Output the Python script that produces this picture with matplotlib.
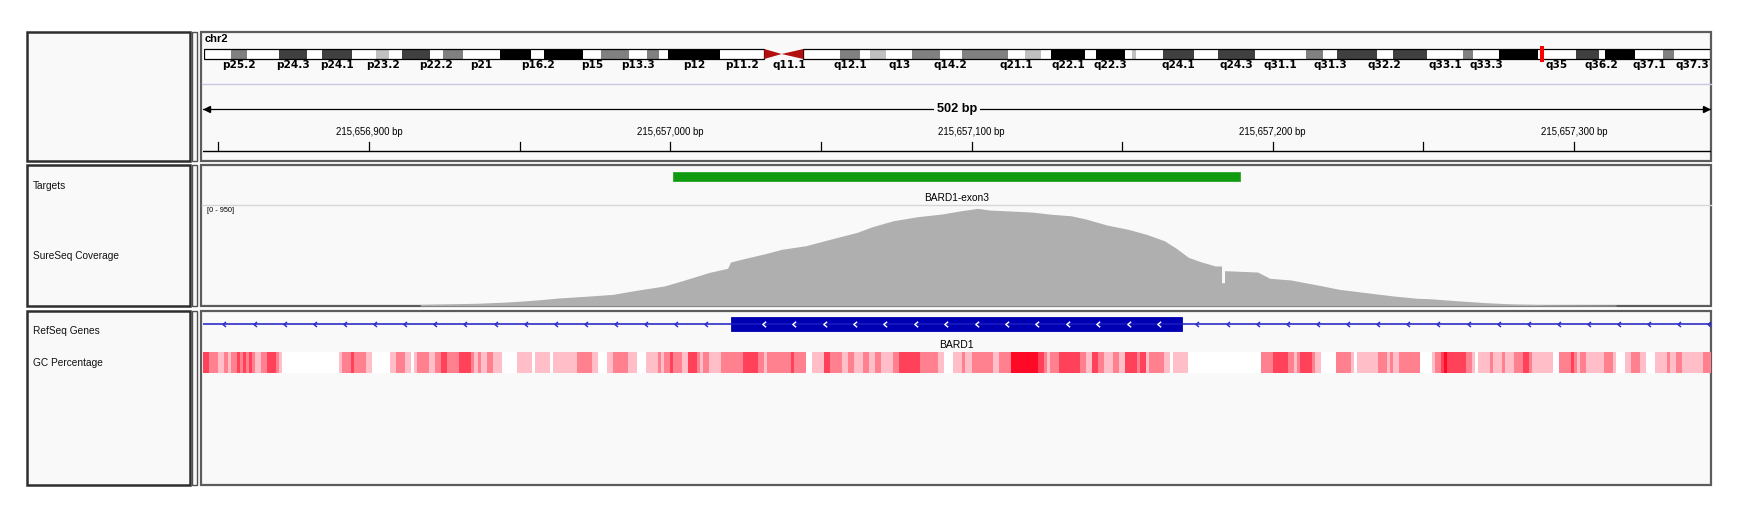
import numpy as np
import matplotlib
matplotlib.use("Agg")
import matplotlib.pyplot as plt
from matplotlib.patches import Rectangle, Polygon
from matplotlib.path import Path

plt.rcParams["font.family"] = ["Liberation Sans", "DejaVu Sans"]

W, H = 1743, 519

# ---- data -------------------------------------------------------------
chrom = "chr2"
view_start, view_end = 215656844.7, 215657345.5
base = 215656800

# hg19 chr2 cytobands (Mb)
band_start = [0, 4.4, 7.1, 12.2, 16.7, 19.2, 24.0, 27.9, 30.0, 32.1, 36.6, 38.6,
              41.8, 47.8, 52.9, 55.0, 61.3, 64.1, 68.6, 71.5, 73.5, 75.0, 83.3,
              96.8, 102.7, 106.0, 107.5, 110.2, 114.4, 118.8, 122.4, 129.9,
              132.5, 135.1, 136.8, 142.2, 144.1, 148.7, 149.9, 150.5, 154.9,
              159.8, 163.7, 169.7, 178.0, 180.6, 183.0, 189.4, 191.9, 197.4,
              203.3, 204.9, 209.0, 215.3, 221.5, 225.2, 226.1, 231.0, 235.6, 237.3]
band_name = ["p25.3", "p25.2", "p25.1", "p24.3", "p24.2", "p24.1", "p23.3", "p23.2",
             "p23.1", "p22.3", "p22.2", "p22.1", "p21", "p16.3", "p16.2", "p16.1",
             "p15", "p14", "p13.3", "p13.2", "p13.1", "p12", "p11.2",
             "q11.2", "q12.1", "q12.2", "q12.3", "q13", "q14.1", "q14.2", "q14.3",
             "q21.1", "q21.2", "q21.3", "q22.1", "q22.2", "q22.3", "q23.1", "q23.2",
             "q23.3", "q24.1", "q24.2", "q24.3", "q31.1", "q31.2", "q31.3", "q32.1",
             "q32.2", "q32.3", "q33.1", "q33.2", "q33.3", "q34", "q35", "q36.1",
             "q36.2", "q36.3", "q37.1", "q37.2", "q37.3"]
band_stain = [0, 50, 0, 75, 0, 75, 0, 25, 0, 75, 0, 50, 0, 100, 0, 100, 0, 50, 0,
              50, 0, 100, 0, 0, 50, 0, 25, 0, 50, 0, 50, 0, 25, 0, 100, 0, 100, 0,
              25, 0, 75, 0, 75, 0, 50, 0, 75, 0, 75, 0, 50, 0, 100, 0, 75, 0, 100,
              0, 50, 0]
chrom_len = 243.2
cen_start, cen_mid, cen_end = 90.5, 93.3, 96.8
cen_label = "q11.1"
shown_labels = ["p25.2", "p24.3", "p24.1", "p23.2", "p22.2", "p21", "p16.2", "p15",
                "p13.3", "p12", "p11.2", "q12.1", "q13", "q14.2", "q21.1", "q22.1",
                "q22.3", "q24.1", "q24.3", "q31.1", "q31.3", "q32.2", "q33.1",
                "q33.3", "q35", "q36.2", "q37.1", "q37.3"]

ruler_ticks = [215656850, 215656900, 215656950, 215657000, 215657050, 215657100,
               215657150, 215657200, 215657250, 215657300]
ruler_labels = [215656900, 215657000, 215657100, 215657200, 215657300]

target_start, target_end = 215657001, 215657189
target_name = "BARD1-exon3"

# coverage outline: offsets from base, depth
cov_pos = [117, 117, 136, 146, 151, 157, 163, 172, 181, 188, 198, 204, 213, 219, 220,
           225, 232, 237, 245, 253, 262, 267, 274, 282, 290, 296, 302, 306, 313,
           320, 327, 333, 338, 345, 352, 358, 364, 368, 372, 376, 381, 383, 383,
           384, 384, 395, 399, 406, 415, 422, 431, 440, 448, 452, 461, 471, 480,
           490, 514, 514]
cov_val = [0, 15, 26, 38, 47, 60, 76, 92, 110, 145, 189, 239, 318, 356, 416,
           451, 498, 536, 570, 630, 696, 749, 806, 844, 869, 898, 923, 907, 898,
           888, 866, 853, 822, 765, 725, 678, 617, 545, 460, 419, 378, 378, 220,
           220, 334, 321, 262, 246, 198, 158, 126, 95, 73, 69, 50, 31, 19, 13, 9, 0]
cov_max = 950

gene_name = "BARD1"
exon_start, exon_end = 215657020, 215657170

# GC percentage cells: start offsets (end = next start), level 0 = no data
gc_start = [44, 47, 50, 52, 53, 54, 56, 57, 58, 59, 60, 61, 62, 64, 66, 69, 70, 71,
            90, 91, 94, 95, 99, 101, 107, 109, 112, 114, 115, 116, 120, 122, 124,
            126, 130, 134, 135, 136, 137, 139, 141, 144, 149, 154, 155, 160, 161,
            169, 174, 176, 179, 181, 186, 189, 192, 196, 197, 198, 200, 201, 204,
            206, 209, 210, 211, 213, 217, 224, 229, 231, 232, 240, 241, 245, 247,
            251, 253, 257, 259, 261, 264, 266, 268, 270, 274, 276, 283, 289, 291,
            294, 297, 298, 300, 307, 309, 313, 322, 324, 325, 326, 329, 336, 338,
            340, 342, 344, 347, 349, 351, 355, 356, 358, 359, 364, 366, 367, 372,
            396, 400, 405, 407, 408, 409, 413, 414, 416, 421, 426, 427, 428, 435,
            438, 439, 440, 442, 449, 453, 454, 456, 457, 458, 464, 466, 467, 468,
            472, 473, 476, 477, 480, 483, 485, 486, 493, 495, 499, 500, 501, 502,
            504, 510, 513, 514, 517, 519, 522, 524, 527, 531, 532, 534, 536, 543, 546]
gc_level = [3, 2, 1, 2, 1, 2, 3, 2, 3, 2, 3, 2, 1, 2, 3, 2, 1, 0,
            1, 2, 3, 2, 1, 0, 1, 2, 1, 0, 1, 2, 1, 2, 3,
            2, 3, 2, 1, 2, 1, 2, 1, 0, 1, 0, 1, 0, 1,
            2, 1, 0, 1, 2, 1, 0, 1, 2, 1, 2, 3, 2, 1,
            3, 2, 1, 2, 1, 2, 3, 2, 1, 2, 3, 2, 0, 1,
            3, 2, 1, 2, 1, 2, 1, 2, 1, 2, 3, 2, 1, 0,
            1, 2, 1, 2, 1, 2, 4, 3, 2, 1, 2, 3, 2, 1,
            3, 2, 1, 2, 1, 3, 2, 3, 1, 2, 1, 0, 1, 0,
            2, 3, 2, 1, 2, 3, 2, 1, 0, 2, 1, 0, 1, 2,
            1, 2, 1, 2, 0, 1, 2, 3, 4, 3, 2, 1, 0, 1,
            2, 1, 2, 1, 2, 3, 2, 1, 0, 2, 3, 2, 1, 2,
            1, 2, 1, 0, 1, 2, 1, 0, 1, 2, 1, 2, 1, 2]

track_names = ["Targets", "SureSeq Coverage", "RefSeq Genes", "GC Percentage"]
track_name_y = [186, 256, 331.5, 362.5]

# ---- styles -----------------------------------------------------------
stain_color = {0: "#ffffff", 25: "#c0c0c0", 50: "#808080", 75: "#404040", 100: "#000000"}
gc_color = {1: "#ffbec8", 2: "#ff808f", 3: "#ff4259", 4: "#ff0a26"}
panel_bg = "#f9f9f9"
data_x0, data_x1 = 202.5, 1711
band_font = dict(family=["DejaVu Sans"], fontsize=7.6, fontweight="bold")

fig = plt.figure(figsize=(W / 100, H / 100), dpi=100)
fig.patch.set_facecolor("white")


def px_axes(x0, y0, x1, y1, z=2):
    ax = fig.add_axes([x0 / W, 1 - y1 / H, (x1 - x0) / W, (y1 - y0) / H], zorder=z)
    ax.set_axis_off()
    ax.patch.set_visible(False)
    return ax


canvas = px_axes(0, 0, W, H, z=0)
canvas.set_xlim(0, W)
canvas.set_ylim(H, 0)

# panels
panels = [(32, 161), (165, 305.5), (310.5, 485)]
for y0, y1 in panels:
    canvas.add_patch(Rectangle((27, y0), 163, y1 - y0, fc=panel_bg, ec="#2e2e2e", lw=1.8))
    canvas.add_patch(Rectangle((192.5, y0), 5, y1 - y0, fc=panel_bg, ec="#505050", lw=1.0))
    canvas.add_patch(Rectangle((201.5, y0), data_x1 - 201.5, y1 - y0, fc=panel_bg,
                               ec="#5c5c5c", lw=1.6))

for name, y in zip(track_names, track_name_y):
    canvas.text(33, y, name, fontsize=7.3, va="center", ha="left", color="#111111")

canvas.text(205, 39, chrom, fontsize=8, fontweight="bold", va="center", ha="left")
canvas.plot([data_x0, data_x1], [84, 84], color="#c9c9dd", lw=1)
canvas.plot([data_x0, data_x1], [204.5, 204.5], color="#d6d6d6", lw=1)
canvas.text(207, 211, "[0 - 950]", fontsize=5.3, va="center", ha="left")

# ideogram
ideo = px_axes(data_x0 + 1, 40, data_x1 - 0.5, 75)
ideo.set_xlim(0, chrom_len)
ideo.set_ylim(75, 40)
ends = band_start[1:] + [chrom_len]
ends[band_name.index("p11.2")] = cen_start
for s, e, n, st in zip(band_start, ends, band_name, band_stain):
    ideo.add_patch(Rectangle((s, 49), e - s, 10, fc=stain_color[st], ec="none"))
    if n in shown_labels:
        ideo.text((s + e) / 2, 65.5, n, ha="center", va="center", clip_on=True, **band_font)
ideo.text((cen_mid + cen_end) / 2 - 0.5, 65.5, cen_label, ha="center", va="center", **band_font)
ideo.add_patch(Rectangle((0, 49), cen_start, 10, fc="none", ec="black", lw=0.9))
ideo.add_patch(Rectangle((cen_end, 49), chrom_len - cen_end, 10, fc="none", ec="black", lw=0.9))
ideo.add_patch(Polygon([(cen_start, 49), (cen_start, 59), (cen_mid, 54)], fc="#b40f0f", ec="none"))
ideo.add_patch(Polygon([(cen_end, 49), (cen_end, 59), (cen_mid, 54)], fc="#b40f0f", ec="none"))
locus = view_start / 1e6
ideo.add_patch(Rectangle((locus, 46), 0.75, 16, fc="#ff0000", ec="none"))

# ruler
ruler = px_axes(data_x0, 0, data_x1, H)
ruler.set_xlim(view_start, view_end)
ruler.set_ylim(H, 0)
ruler.plot([view_start, view_end], [109, 109], color="black", lw=0.9)
ruler.plot([view_start + 1.5], [109], marker="<", ms=4, color="black")
ruler.plot([view_end - 1.5], [109], marker=">", ms=4, color="black")
span = int(round(view_end - view_start))
ruler.text((view_start + view_end) / 2, 109, f"{span + 1} bp", fontsize=9.2, fontweight="bold",
           ha="center", va="center",
           bbox=dict(fc=panel_bg, ec="none", pad=2))
for t in ruler_ticks:
    ruler.plot([t, t], [141.5, 150], color="black", lw=0.9)
for t in ruler_labels:
    ruler.text(t, 132, f"{t:,} bp", fontsize=6.9, ha="center", va="center")
ruler.plot([view_start, view_end], [151, 151], color="black", lw=1)

# targets
ruler.add_patch(Rectangle((target_start, 171.5), target_end - target_start, 9.5,
                          fc="#0f9a0f", ec="#2aa52a", lw=0.6))
ruler.text((target_start + target_end) / 2, 198, target_name, fontsize=7.3,
           ha="center", va="center")

# coverage
cov = px_axes(data_x0, 205.5, data_x1, 306)
cov.set_xlim(view_start, view_end)
cov.set_ylim(0, cov_max)
cx = base + np.array(cov_pos)
cov.fill_between(cx, 0, cov_val, color="#afafaf", lw=0)

# gene track
ruler.plot([view_start, view_end], [324, 324], color="#1c1cc4", lw=1.1)
chev = Path([(0.6, 1), (-0.6, 0), (0.6, -1)], [Path.MOVETO, Path.LINETO, Path.LINETO])
line_chev = np.concatenate([np.arange(52, 215, 10), np.arange(375, 546, 10)]) + base
ruler.plot(line_chev, [324] * len(line_chev), ls="none", marker=chev, ms=3.6,
           mfc="none", mec="#2a2ad0", mew=1.0)
ruler.add_patch(Rectangle((exon_start, 316.5), exon_end - exon_start, 14,
                          fc="#0000b2", ec="#0000b2", lw=0.6))
exon_chev = np.arange(231, 365, 10.1) + base
ruler.plot(exon_chev, [323.5] * len(exon_chev), ls="none", marker=chev, ms=4,
           mfc="none", mec="white", mew=1.0)
ruler.text((exon_start + exon_end) / 2, 345, gene_name, fontsize=7.5, ha="center", va="center")

# GC percentage
ruler.add_patch(Rectangle((view_start, 352), view_end - view_start, 20.5, fc="white", ec="none"))
for s, e, lv in zip(gc_start[:-1], gc_start[1:], gc_level):
    if lv:
        ruler.add_patch(Rectangle((base + s, 352), e - s, 20.5, fc=gc_color[lv], ec="none"))

fig.savefig("out.png", dpi=100, facecolor="white")
